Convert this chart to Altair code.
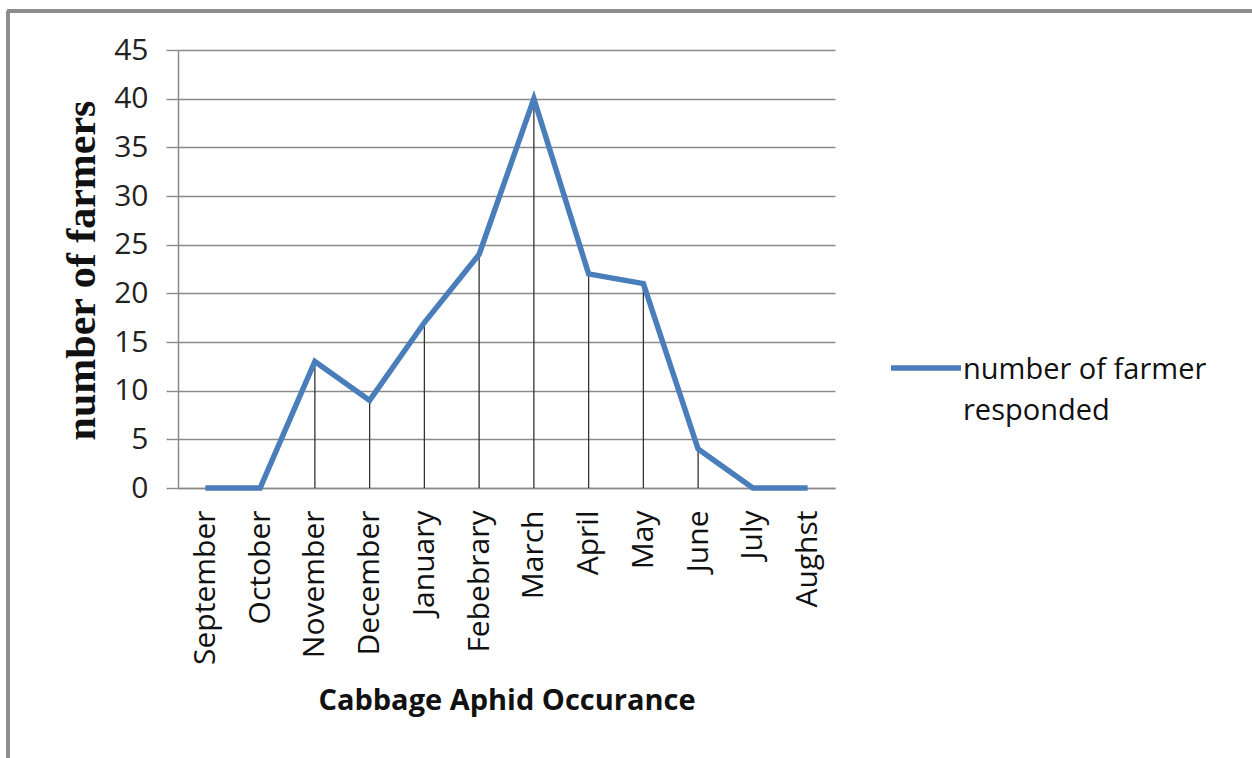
import altair as alt
import pandas as pd

# Months surveyed and number of farmers reporting cabbage aphid occurrence
months = ["September", "October", "November", "December", "January", "Febebrary",
          "March", "April", "May", "June", "July", "Aughst"]
farmers = [0, 0, 13, 9, 17, 24, 40, 22, 21, 4, 0, 0]
y_ticks = [0, 5, 10, 15, 20, 25, 30, 35, 40, 45]
series_name = "number of farmer responded"
series_lines = ["number of farmer", "responded"]

df = pd.DataFrame({"month": months, "farmers": farmers, "series": series_name})

W, H = 657, 438
SANS = "Open Sans"
GRID = "#8a8a8a"
TITLE_DY = 45  # shared baseline nudge for guide titles (lines the legend text up with its swatch)

x_enc = alt.X("month:N", sort=months, scale=alt.Scale(type="point", padding=0.5),
              axis=alt.Axis(title="Cabbage Aphid Occurance", labelAngle=-90, labelFontSize=30,
                            labelFont=SANS, labelColor="#111", labelPadding=22, ticks=False,
                            domainColor=GRID, domainWidth=1.5,
                            titleFont=SANS, titleFontSize=29, titleFontWeight="bold", titleColor="#111",
                            titleY=212 - TITLE_DY, titleBaseline="middle"))

y_enc = alt.Y("farmers:Q", scale=alt.Scale(domain=[0, 45], nice=False),
              axis=alt.Axis(title="number of farmers", values=y_ticks, grid=True, gridColor=GRID,
                            gridWidth=1.4, domainColor=GRID, domainWidth=1.5, tickColor=GRID,
                            tickSize=12, tickWidth=1.4, labelFontSize=30, labelFont=SANS,
                            labelColor="#222", labelPadding=18,
                            titleFont="Liberation Serif", titleFontSize=42, titleFontWeight="bold",
                            titleColor="#111", titleAngle=270, titleX=-97 - TITLE_DY, titleY=H / 2 + 1,
                            titleAlign="center", titleBaseline="middle"))

# thin drop lines from each point down to the axis
drops = alt.Chart(df).mark_rule(color="#333", strokeWidth=1.3).encode(
    x=x_enc, y=y_enc, y2=alt.datum(0)
)

line = alt.Chart(df).mark_line(strokeWidth=5.5, strokeJoin="miter").encode(
    x=x_enc, y=y_enc,
    color=alt.Color("series:N", scale=alt.Scale(range=["#4a7ebb"]),
                    legend=alt.Legend(title=series_lines, titleOrient="right", titleAnchor="middle",
                                      titleBaseline="alphabetic", titleLineHeight=41, titlePadding=-9,
                                      titleFont=SANS, titleFontSize=29, titleFontWeight="normal",
                                      titleColor="#111", titleLimit=400,
                                      orient="none", legendX=888 - 178, legendY=330 - 50,
                                      symbolType="stroke", symbolSize=4900, symbolStrokeWidth=5.5,
                                      labelExpr="''", labelOffset=0, labelFontSize=1))
)

# outer frame edges (top and left)
frame_top = alt.Chart(df).mark_rule(color="#8c8c8c", strokeWidth=2.5).encode(
    x=alt.value(-171), x2=alt.value(1252 - 178), y=alt.value(11 - 50)
)
frame_left = alt.Chart(df).mark_rule(color="#8c8c8c", strokeWidth=2.5).encode(
    x=alt.value(8 - 178), y=alt.value(11 - 50), y2=alt.value(758 - 50)
)

chart = alt.layer(drops, line, frame_top, frame_left).properties(
    width=W, height=H,
    autosize=alt.AutoSizeParams(type="none"),
    padding={"left": 178, "top": 50, "right": 1252 - 178 - W, "bottom": 758 - 50 - H},
    background="white",
).configure(
    view=alt.ViewConfig(stroke="transparent"),
    style={"guide-title": {"dy": TITLE_DY}},
)

chart.save("out.html", embed_options={"renderer": "svg", "actions": False})
